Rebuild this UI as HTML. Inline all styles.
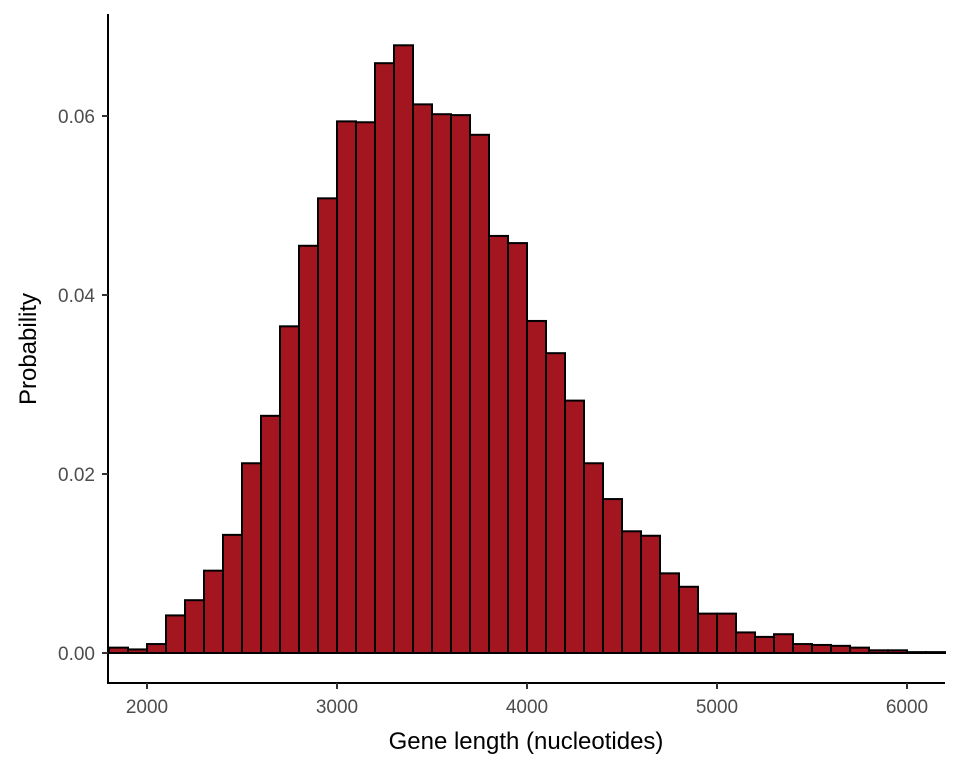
<!DOCTYPE html>
<html><head><meta charset="utf-8"><style>
body{margin:0;background:#fff}
svg{display:block;font-family:"Liberation Sans",Arial,sans-serif}
</style></head><body>
<svg id="chart" width="960" height="768">
<g id="bars"></g>
<line x1="108" y1="653" x2="945" y2="653" stroke="#000" stroke-width="2"/>
<line x1="108" y1="14" x2="108" y2="684" stroke="#000" stroke-width="2"/>
<line x1="107" y1="683" x2="945" y2="683" stroke="#000" stroke-width="2"/>
<g id="yticks"></g>
<g id="xticks"></g>
<text x="526" y="749" text-anchor="middle" font-size="24" fill="#000">Gene length (nucleotides)</text>
<text transform="translate(36,349) rotate(-90)" text-anchor="middle" font-size="24" fill="#000">Probability</text>
</svg>
<script>
const binStarts=[1800,1900,2000,2100,2200,2300,2400,2500,2600,2700,2800,2900,3000,3100,3200,3300,3400,3500,3600,3700,3800,3900,4000,4100,4200,4300,4400,4500,4600,4700,4800,4900,5000,5100,5200,5300,5400,5500,5600,5700,5800,5900,6000,6100];
const probs=[0.0006,0.0004,0.001,0.0042,0.0059,0.0092,0.0132,0.0212,0.0265,0.0365,0.0455,0.0508,0.0594,0.0593,0.0659,0.0679,0.0613,0.0602,0.0601,0.0579,0.0466,0.0458,0.0371,0.0335,0.0282,0.0212,0.0172,0.0136,0.0131,0.0089,0.0074,0.0044,0.0044,0.0023,0.0018,0.0021,0.001,0.0009,0.0008,0.0006,0.0003,0.0003,0.0001,0.0001];
const binWidth=100;
const yTicks=[0,0.02,0.04,0.06];
const yTickLabels=["0.00","0.02","0.04","0.06"];
const xTicks=[2000,3000,4000,5000,6000];
const xTickLabels=["2000","3000","4000","5000","6000"];
const NS="http://www.w3.org/2000/svg";
const xs=v=>147+(v-2000)*0.19;
const ys=v=>653-v*8950;
const bars=document.getElementById('bars');
binStarts.forEach((b,i)=>{
  const r=document.createElementNS(NS,'rect');
  const x0=xs(b),x1=xs(b+binWidth),y=ys(probs[i]);
  r.setAttribute('x',x0);r.setAttribute('width',x1-x0);
  r.setAttribute('y',y);r.setAttribute('height',653-y);
  r.setAttribute('fill','#A3161F');r.setAttribute('stroke','#000');r.setAttribute('stroke-width','2');
  
  
  bars.appendChild(r);
});
const yg=document.getElementById('yticks');
yTicks.forEach((t,i)=>{
  const l=document.createElementNS(NS,'line');
  l.setAttribute('x1',102);l.setAttribute('x2',108);l.setAttribute('y1',ys(t));l.setAttribute('y2',ys(t));
  l.setAttribute('stroke','#333');l.setAttribute('stroke-width','2');
  
  
  yg.appendChild(l);
  const tx=document.createElementNS(NS,'text');
  tx.setAttribute('x',95);tx.setAttribute('y',ys(t)+7);tx.setAttribute('text-anchor','end');
  tx.setAttribute('font-size','19');tx.setAttribute('fill','#4d4d4d');
  tx.textContent=yTickLabels[i];
  
  
  yg.appendChild(tx);
});
const xg=document.getElementById('xticks');
xTicks.forEach((t,i)=>{
  const l=document.createElementNS(NS,'line');
  l.setAttribute('x1',xs(t));l.setAttribute('x2',xs(t));l.setAttribute('y1',683);l.setAttribute('y2',689);
  l.setAttribute('stroke','#333');l.setAttribute('stroke-width','2');
  
  
  xg.appendChild(l);
  const tx=document.createElementNS(NS,'text');
  tx.setAttribute('x',xs(t));tx.setAttribute('y',713);tx.setAttribute('text-anchor','middle');
  tx.setAttribute('font-size','19');tx.setAttribute('fill','#4d4d4d');
  tx.textContent=xTickLabels[i];
  
  
  xg.appendChild(tx);
});
</script>
</body></html>
